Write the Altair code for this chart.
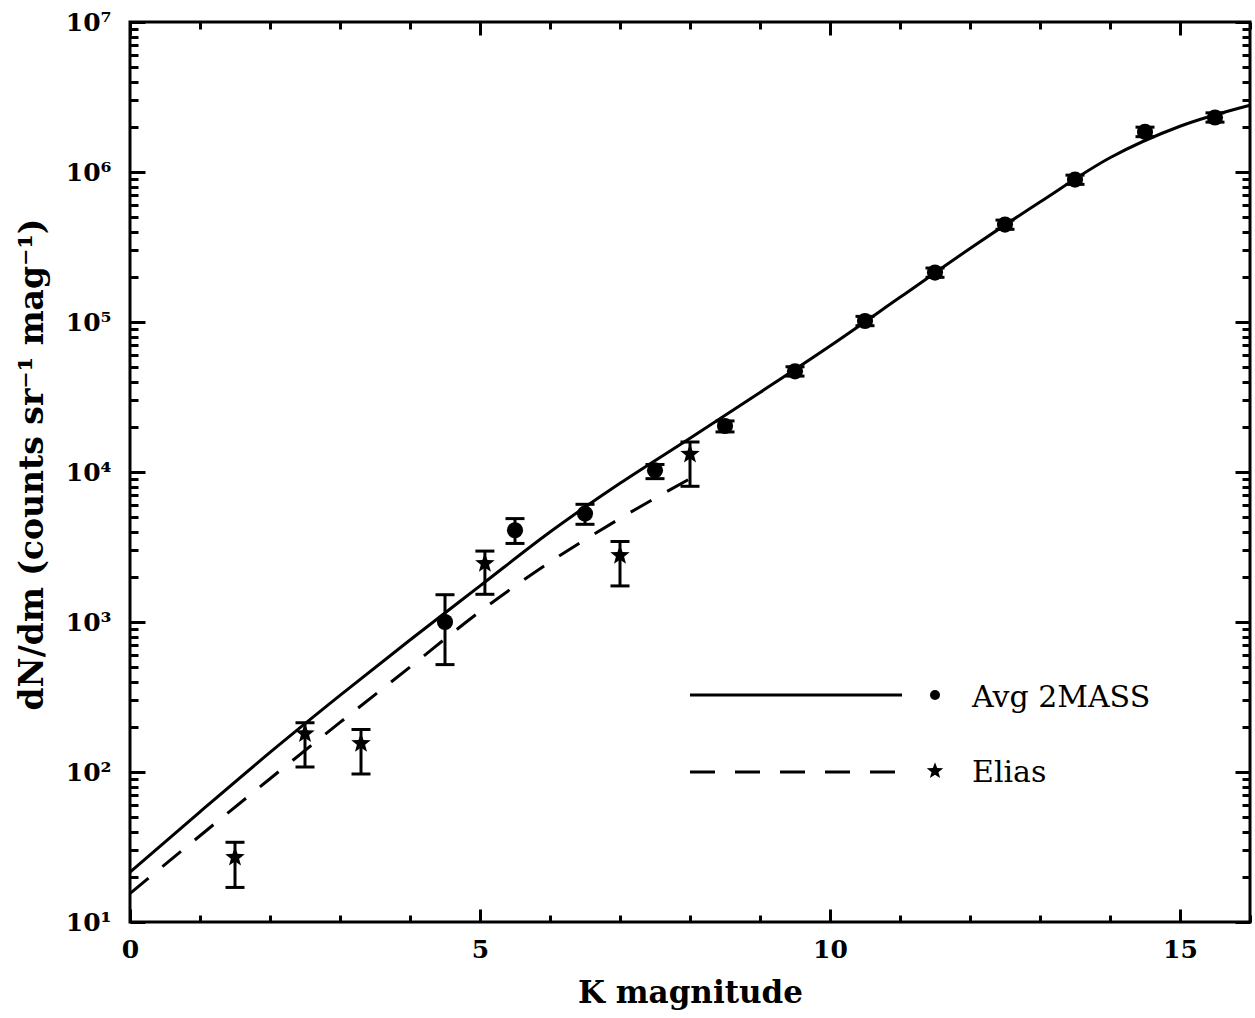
import altair as alt
import pandas as pd

# ---- data ----
twomass_mag = [4.5, 5.5, 6.5, 7.5, 8.5, 9.5, 10.5, 11.5, 12.5, 13.5, 14.5, 15.5]
twomass_n = [1000, 4090, 5280, 10260, 20270, 46900, 101600, 213500, 446000, 889000, 1850000, 2310000]
twomass_lo = [520, 3340, 4480, 9030, 18500, 43600, 94500, 198500, 415000, 827000, 1720000, 2150000]
twomass_hi = [1520, 4890, 6090, 11220, 21900, 50300, 109000, 229000, 478000, 953000, 1990000, 2480000]

elias_mag = [1.5, 2.5, 3.3, 5.07, 7.0, 8.0]
elias_n = [27, 180, 155, 2460, 2780, 13130]
elias_lo = [17, 108, 97, 1530, 1740, 8030]
elias_hi = [34, 213, 192, 2970, 3440, 15850]

model_mag = [0, 1, 2, 3, 4, 5, 6, 7, 8, 9, 10, 11, 12, 13, 14, 15, 16]
model_2mass = [21.5, 54.3, 135, 324, 759, 1740, 3980, 8410, 16800, 33900, 69200,
               146000, 309000, 631000, 1245000, 2018000, 2786000]
model_elias_mag = [0, 1, 2, 3, 4, 5, 6, 7, 8]
model_elias = [15.5, 37.6, 90.2, 214, 501, 1175, 2510, 4900, 9020]

x_major = [0, 5, 10, 15]
x_minor = list(range(0, 17))
y_major = [10, 100, 1000, 10000, 100000, 1000000, 10000000]
y_minor = [k * 10 ** e for e in range(1, 7) for k in range(2, 10)]
legend_labels = ["Avg 2MASS", "Elias"]

W, H = 1120, 900
FONT = "DejaVu Serif"
STAR = ("M0,-1L0.25,-0.34L0.951,-0.309L0.4,0.13L0.588,0.809L0,0.42"
        "L-0.588,0.809L-0.4,0.13L-0.951,-0.309L-0.25,-0.34Z")

df2 = pd.DataFrame({"m": twomass_mag, "n": twomass_n, "lo": twomass_lo, "hi": twomass_hi})
dfe = pd.DataFrame({"m": elias_mag, "n": elias_n, "lo": elias_lo, "hi": elias_hi})
err = pd.concat([df2, dfe], ignore_index=True)
mod2 = pd.DataFrame({"m": model_mag, "n": model_2mass})
mode = pd.DataFrame({"m": model_elias_mag, "n": model_elias})

xs = alt.Scale(domain=[0, 16], nice=False, zero=False)
ys = alt.Scale(type="log", domain=[10, 10000000], nice=False)

tick_common = dict(grid=False, domain=False, labels=False, title=None,
                   tickColor="black", tickWidth=3)


def tick_axis(orient, size, values):
    # negative tick size (given as an expression) makes the ticks point into the plot
    return alt.Axis(orient=orient, values=values, tickSize=alt.ExprRef(expr=str(-size)),
                    **tick_common)


x_main = alt.Axis(orient="bottom", values=x_major, grid=False, domain=False,
                  tickSize=alt.ExprRef(expr="-13"), tickColor="black", tickWidth=3,
                  labelPadding=28, labelFlush=False, labelFont=FONT, labelFontWeight="bold",
                  labelFontSize=25, labelColor="black", title="K magnitude",
                  titleFont=FONT, titleFontWeight="bold", titleFontSize=31,
                  titleColor="black", titleX=W / 2, titleY=80, titleBaseline="alphabetic")
y_main = alt.Axis(orient="left", values=y_major, grid=False, domain=False,
                  tickSize=alt.ExprRef(expr="-15"), tickColor="black", tickWidth=3,
                  labelPadding=34, labelFlush=False, labelFont=FONT, labelFontWeight="bold",
                  labelFontSize=25, labelColor="black",
                  labelExpr="'10' + ['⁰','¹','²','³','⁴','⁵','⁶','⁷'][round(log(datum.value)/LN10)]",
                  title="dN/dm (counts sr⁻¹ mag⁻¹)", titleFont=FONT, titleFontWeight="bold",
                  titleFontSize=33, titleColor="black", titleAngle=270, titleX=-88,
                  titleY=442, titleBaseline="alphabetic")

solid = alt.Chart(mod2).mark_line(color="black", strokeWidth=3, interpolate="monotone").encode(
    x=alt.X("m:Q", scale=xs, axis=x_main),
    y=alt.Y("n:Q", scale=ys, axis=y_main),
)
dashed = alt.Chart(mode).mark_line(color="black", strokeWidth=3, strokeDash=[24, 18],
                                   interpolate="monotone").encode(
    x=alt.X("m:Q", scale=xs, axis=tick_axis("top", 13, x_major)),
    y=alt.Y("n:Q", scale=ys, axis=tick_axis("right", 15, y_major)),
)
rules = alt.Chart(err).mark_rule(color="black", strokeWidth=3, opacity=1).encode(
    x=alt.X("m:Q", scale=xs, axis=tick_axis("bottom", 7, x_minor)),
    y=alt.Y("lo:Q", scale=ys, axis=tick_axis("left", 8, y_minor)),
    y2="hi:Q",
)
cap_lo = alt.Chart(err).mark_tick(color="black", thickness=3, size=19, opacity=1,
                                  orient="horizontal").encode(
    x=alt.X("m:Q", scale=xs, axis=tick_axis("top", 7, x_minor)),
    y=alt.Y("lo:Q", scale=ys, axis=tick_axis("right", 8, y_minor)),
)
cap_hi = alt.Chart(err).mark_tick(color="black", thickness=3, size=19, opacity=1,
                                  orient="horizontal").encode(
    x=alt.X("m:Q", scale=xs, axis=None),
    y=alt.Y("hi:Q", scale=ys, axis=None),
)
circles = alt.Chart(df2).mark_point(shape="circle", filled=True, color="black", opacity=1,
                                    size=260).encode(
    x=alt.X("m:Q", scale=xs, axis=None),
    y=alt.Y("n:Q", scale=ys, axis=None),
)
stars = alt.Chart(dfe).mark_point(shape=STAR, filled=True, color="black", opacity=1,
                                  size=420).encode(
    x=alt.X("m:Q", scale=xs, axis=None),
    y=alt.Y("n:Q", scale=ys, axis=None),
)

# ---- legend (drawn inside the plot) ----
one = pd.DataFrame({"a": [0]})
leg_solid = alt.Chart(one).mark_rule(color="black", strokeWidth=3).encode(
    x=alt.value(560), x2=alt.value(772), y=alt.value(673))
leg_dash = alt.Chart(one).mark_rule(color="black", strokeWidth=3, strokeDash=[25, 20]).encode(
    x=alt.value(560), x2=alt.value(772), y=alt.value(750))
leg_circle = alt.Chart(one).mark_point(shape="circle", filled=True, color="black", opacity=1,
                                       size=100).encode(x=alt.value(805), y=alt.value(673))
leg_star = alt.Chart(one).mark_point(shape=STAR, filled=True, color="black", opacity=1,
                                     size=300).encode(x=alt.value(805), y=alt.value(749))
leg_t1 = alt.Chart(one).mark_text(text=legend_labels[0], align="left", baseline="alphabetic",
                                  font=FONT, fontSize=30, color="black").encode(
    x=alt.value(842), y=alt.value(685))
leg_t2 = alt.Chart(one).mark_text(text=legend_labels[1], align="left", baseline="alphabetic",
                                  font=FONT, fontSize=30, color="black").encode(
    x=alt.value(842), y=alt.value(760))

chart = alt.layer(
    solid, dashed, rules, cap_lo, cap_hi, circles, stars,
    leg_solid, leg_dash, leg_circle, leg_star, leg_t1, leg_t2,
).resolve_axis(x="independent", y="independent").properties(
    width=W, height=H,
    autosize=alt.AutoSizeParams(type="none"),
    padding={"left": 130, "top": 22, "right": 5, "bottom": 96},
    background="white",
).configure_view(stroke="black", strokeWidth=3)

chart.save("out.html", embed_options={"renderer": "svg", "actions": False})
